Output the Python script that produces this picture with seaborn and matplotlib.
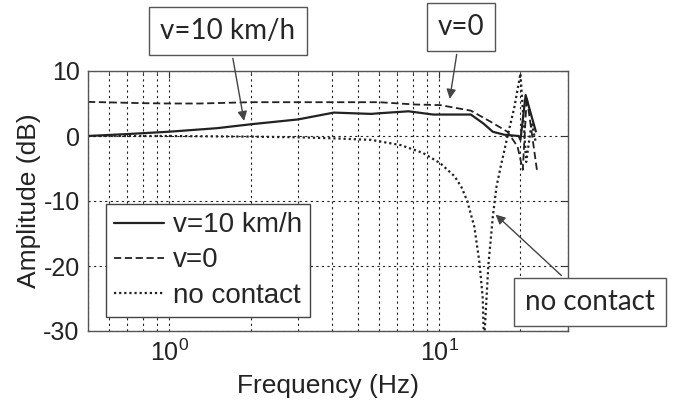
import matplotlib
matplotlib.use("Agg")
import matplotlib.pyplot as plt
import seaborn as sns
from matplotlib.ticker import FixedLocator, LogLocator, NullFormatter

# values
freq_v10 = [0.5, 0.7, 1.0, 1.5, 2.0, 3.0, 4.07, 5.6, 6.0, 7.7, 9.5, 13.1, 14.6, 15.8, 17.4, 19.7, 20.0, 20.9, 22.8]
amp_v10 = [0.0, 0.3, 0.66, 1.2, 1.8, 2.55, 3.6, 3.4, 3.5, 3.8, 3.3, 3.3, 1.9, 0.65, 0.2, 0.0, -0.6, 6.3, 0.7]

freq_v0 = [0.5, 0.8, 1.0, 1.3, 2.0, 4.0, 6.0, 8.1, 10.1, 13.1, 15.5, 17.9, 19.5, 20.4, 21.1, 23.1]
amp_v0 = [5.25, 5.05, 5.0, 5.0, 5.2, 5.2, 5.2, 4.85, 4.75, 3.9, 2.2, 0.65, -1.6, -5.2, 6.0, -5.7]

freq_nc = [0.5, 1.0, 2.0, 3.0, 4.0, 5.6, 7.2, 8.7, 10.1, 11.4, 12.1, 12.7, 13.5, 14.1, 14.5, 14.65,
           15.2, 15.8, 16.3, 16.9, 17.9, 19.0, 20.0, 21.0, 22.0, 22.8]
amp_nc = [0.0, 0.0, -0.1, -0.2, -0.35, -0.6, -1.4, -2.6, -4.2, -6.2, -7.9, -10.0, -14.0, -19.5, -25.0, -32.0,
          -20.0, -12.4, -7.8, -4.7, -0.1, 4.5, 9.6, -4.0, 2.0, -1.0]

legend_labels = ["v=10 km/h", "v=0", "no contact"]

sns.set_style("white")
plt.rcParams["font.family"] = ["Liberation Sans", "DejaVu Sans"]
plt.rcParams["axes.unicode_minus"] = False
plt.rcParams["mathtext.default"] = "regular"

fig = plt.figure(figsize=(6.87, 4.08), dpi=100)
ax = fig.add_axes([88 / 687, 77 / 408, 480 / 687, 260 / 408])

line_col = "#222222"
sns.lineplot(x=freq_v10, y=amp_v10, ax=ax, color=line_col, lw=1.6, linestyle="-",
             label=legend_labels[0], sort=False, estimator=None)
sns.lineplot(x=freq_v0, y=amp_v0, ax=ax, color=line_col, lw=1.3, dashes=(4, 2),
             label=legend_labels[1], sort=False, estimator=None)
sns.lineplot(x=freq_nc, y=amp_nc, ax=ax, color=line_col, lw=1.6, dashes=(1, 1.3),
             label=legend_labels[2], sort=False, estimator=None)

ax.set_xscale("log")
ax.set_xlim(0.5, 30)
ax.set_ylim(-30, 10)
ax.set_yticks([-30, -20, -10, 0, 10])
ax.xaxis.set_major_locator(FixedLocator([1, 10]))
ax.set_xticklabels(["$10^0$", "$10^1$"])
ax.xaxis.set_minor_locator(LogLocator(base=10, subs=range(2, 10)))
ax.xaxis.set_minor_formatter(NullFormatter())

ax.grid(which="both", axis="x", color="#222222", linestyle=(0, (2, 3)), lw=0.8)
ax.grid(which="major", axis="y", color="#222222", linestyle=(0, (2, 3)), lw=0.8)

ax.tick_params(which="both", direction="in", top=True, right=True, labelsize=18, colors="#333333",
               labelcolor="#222222")
ax.tick_params(which="major", length=5, pad=6)
ax.tick_params(which="minor", length=3)
for sp in ax.spines.values():
    sp.set_color("#555555")
    sp.set_linewidth(1.0)

ax.set_xlabel("Frequency (Hz)", fontsize=19, color="#222222", labelpad=6)
ax.set_ylabel("Amplitude (dB)", fontsize=19, color="#222222", labelpad=2)

leg = ax.legend(loc="lower left", bbox_to_anchor=(0.0375, 0.054), borderaxespad=0, fontsize=20,
                fancybox=False, edgecolor="#444444", framealpha=1, handlelength=1.8,
                handletextpad=0.3, labelspacing=0.33, borderpad=0.3)
leg.get_frame().set_linewidth(1.0)

box = dict(boxstyle="square,pad=0.4", fc="white", ec="#555555", lw=1.0)
arrow = dict(arrowstyle="-|>", color="#444444", lw=1.0, mutation_scale=14)
note_font = ["Lato", "DejaVu Sans"]
ax.annotate("v=10 km/h", xy=(1.9, 1.9), xytext=(228, 377), textcoords="figure pixels",
            ha="center", va="center", fontsize=20, family=note_font, bbox=box, arrowprops=arrow)
ax.annotate("v=0", xy=(10.9, 5.3), xytext=(461, 381), textcoords="figure pixels",
            ha="center", va="center", fontsize=20, family=note_font, bbox=box, arrowprops=arrow)
ax.annotate("no contact", xy=(15.9, -11.8), xytext=(590, 106), textcoords="figure pixels",
            ha="center", va="center", fontsize=20, family=note_font, bbox=box, arrowprops=arrow,
            annotation_clip=False)

fig.savefig("out.png", dpi=100)
